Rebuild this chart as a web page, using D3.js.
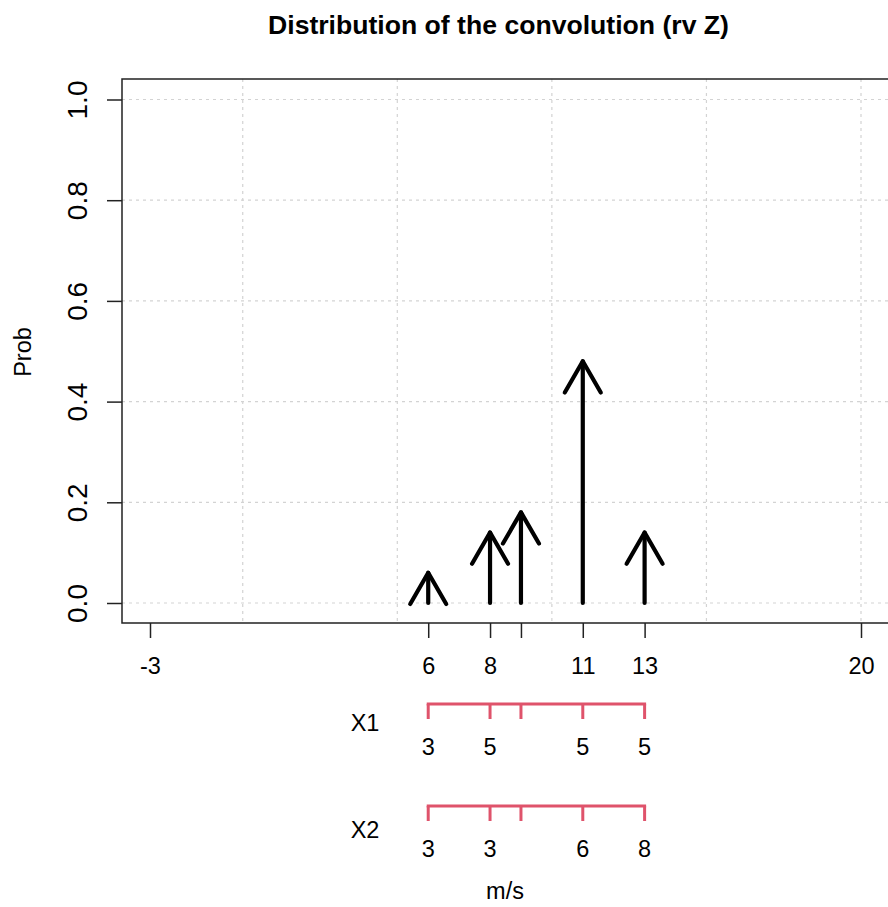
<!DOCTYPE html>
<html><head><meta charset="utf-8">
<script src="https://cdn.jsdelivr.net/npm/d3@7/dist/d3.min.js"></script>
<style>body{margin:0;background:#fff}svg text{font-family:"Liberation Sans",Arial,sans-serif}</style>
</head><body><svg id="c" width="888" height="907"></svg>
<script>
// Data
const zValues = [6, 8, 9, 11, 13];
const zProbs = [0.06, 0.14, 0.18, 0.48, 0.14];
const xTicks = [-3, 6, 8, 9, 11, 13, 20];
const xTickLabels = ["-3", "6", "8", "", "11", "13", "20"];
const xGrid = [0, 5, 10, 15, 20];
const yTicks = [0, 0.2, 0.4, 0.6, 0.8, 1.0];
const x1Labels = ["3", "5", "", "5", "5"];
const x2Labels = ["3", "3", "", "6", "8"];
const rulerNames = ["X1", "X2"];

const FS = 23.5, FSY = 28;
const svg = d3.select("#c");
const x = d3.scaleLinear().domain([-3, 20]).range([150, 861]);
const y = d3.scaleLinear().domain([0, 1]).range([603, 99.5]);
const box = {l: 122, t: 79, b: 623, r: 900};

// grid
const g = svg.append("g");
g.selectAll("line.vg").data(xGrid).join("line")
  .attr("x1", d => x(d)).attr("x2", d => x(d)).attr("y1", box.t).attr("y2", box.b)
  .attr("stroke", "#d3d3d3").attr("stroke-width", 1.2).attr("stroke-dasharray", "3,4");
g.selectAll("line.hg").data(yTicks).join("line")
  .attr("x1", box.l).attr("x2", box.r).attr("y1", d => y(d)).attr("y2", d => y(d))
  .attr("stroke", "#d3d3d3").attr("stroke-width", 1.2).attr("stroke-dasharray", "3,4");

// box
svg.append("path").attr("d", `M${box.r},${box.t}H${box.l}V${box.b}H${box.r}`)
  .attr("fill", "none").attr("stroke", "#222").attr("stroke-width", 1.5);

// x axis
const xAxis = d3.axisBottom(x).tickValues(xTicks).tickSize(15)
  .tickFormat((d, i) => xTickLabels[i]);
const xa = svg.append("g").attr("transform", `translate(0,${box.b})`).call(xAxis);
xa.select(".domain").remove();
xa.selectAll("line").attr("stroke", "#222").attr("stroke-width", 1.5);
xa.selectAll("text").attr("font-size", FS).attr("fill", "#000")
  .attr("font-family", "Liberation Sans, Arial, sans-serif")
  .attr("dy", null).attr("dominant-baseline", "middle").attr("y", 45);

// y axis
const yAxis = d3.axisLeft(y).tickValues(yTicks).tickSize(15).tickFormat(d3.format(".1f"));
const ya = svg.append("g").attr("transform", `translate(${box.l},0)`).call(yAxis);
ya.select(".domain").remove();
ya.selectAll("line").attr("stroke", "#222").attr("stroke-width", 1.5);
ya.selectAll("text").attr("font-size", FSY).attr("fill", "#000")
  .attr("font-family", "Liberation Sans, Arial, sans-serif")
  .attr("x", null).attr("dy", null).attr("text-anchor", "middle").attr("dominant-baseline", "middle")
  .attr("transform", "translate(-42,0) rotate(-90)");

// arrows
const headLen = 36, ang = Math.PI / 6;
const arr = svg.append("g").attr("stroke", "#000").attr("stroke-width", 4.2)
  .attr("stroke-linecap", "round").attr("stroke-linejoin", "round").attr("fill", "none");
zValues.forEach((v, i) => {
  const px = x(v), y0 = y(0), y1 = y(zProbs[i]);
  arr.append("line").attr("x1", px).attr("x2", px).attr("y1", y0).attr("y2", y1);
  const dx = headLen * Math.sin(ang), dy = headLen * Math.cos(ang);
  arr.append("path").attr("d", `M${px - dx},${y1 + dy}L${px},${y1}L${px + dx},${y1 + dy}`);
});

// rulers
const rulers = [{name: rulerNames[0], labels: x1Labels, ly: 704, ny: 725}, {name: rulerNames[1], labels: x2Labels, ly: 806, ny: 832}];
const red = "#DF536B";
rulers.forEach(r => {
  const rg = svg.append("g");
  rg.append("line").attr("x1", x(zValues[0])).attr("x2", x(zValues[zValues.length - 1]))
    .attr("y1", r.ly).attr("y2", r.ly).attr("stroke", red).attr("stroke-width", 3).attr("stroke-linecap", "square");
  rg.selectAll("line.t").data(zValues).join("line").attr("class", "t")
    .attr("x1", d => x(d)).attr("x2", d => x(d)).attr("y1", r.ly).attr("y2", r.ly + 15)
    .attr("stroke", red).attr("stroke-width", 3);
  rg.selectAll("text.l").data(zValues).join("text").attr("class", "l")
    .attr("x", d => x(d)).attr("y", r.ly + 45).attr("text-anchor", "middle").attr("dominant-baseline", "middle")
    .attr("font-size", FS).text((d, i) => r.labels[i]);
  rg.append("text").attr("x", 365).attr("y", r.ny).attr("text-anchor", "middle")
    .attr("dominant-baseline", "middle").attr("font-size", FS).text(r.name);
});

// titles
svg.append("text").attr("x", 498.5).attr("y", 27).attr("text-anchor", "middle")
  .attr("dominant-baseline", "middle").attr("font-size", 26.6).attr("font-weight", "bold").text("Distribution of the convolution (rv Z)");
svg.append("text").attr("x", 505).attr("y", 893).attr("text-anchor", "middle")
  .attr("dominant-baseline", "middle").attr("font-size", FS).text("m/s");
svg.append("text").attr("transform", "translate(25,352) rotate(-90)").attr("text-anchor", "middle")
  .attr("dominant-baseline", "middle").attr("font-size", FS).text("Prob");
</script></body></html>
